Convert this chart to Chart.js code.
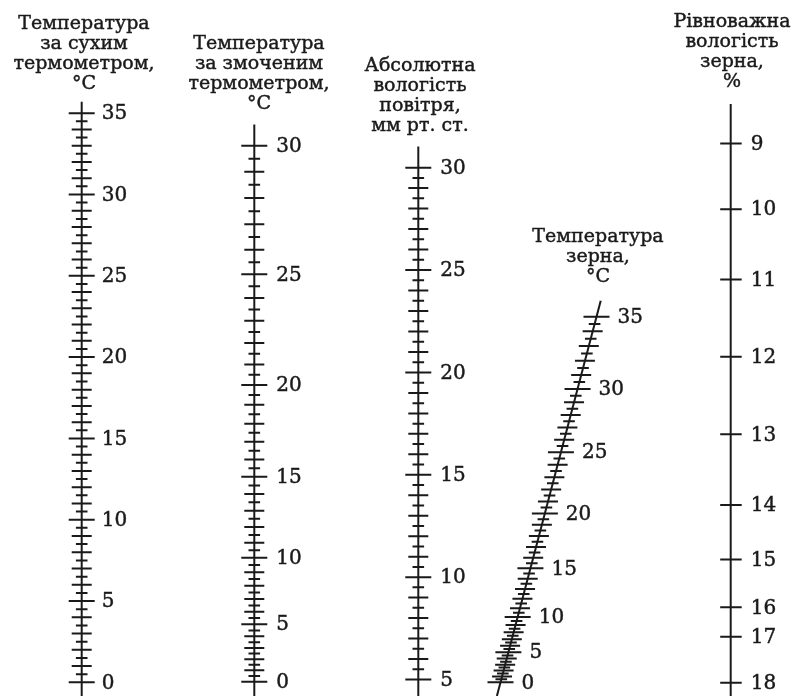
<!DOCTYPE html>
<html>
<head>
<meta charset="utf-8">
<script src="https://cdn.jsdelivr.net/npm/chart.js@4/dist/chart.umd.min.js"></script>
<style>
  html, body { margin: 0; padding: 0; background: #fff; }
  #wrap { width: 801px; height: 696px; }
</style>
</head>
<body>
<div id="wrap"><canvas id="nomo" width="801" height="696"></canvas></div>
<script>
// Номограма: усі шкали виражені в одиницях шкали сухого термометра (°C)
const dryTemps = [0, 5, 10, 15, 20, 25, 30, 35];

const wetTemps = [0, 5, 10, 15, 20, 25, 30];
const wetOnDry = [0.04, 3.57, 7.66, 12.64, 18.28, 25.09, 33.0];

const humidity = [5, 10, 15, 20, 25, 30];
const humidityOnDry = [0.17, 6.47, 12.76, 19.06, 25.36, 31.65];

const grainTemps = [0, 5, 10, 15, 20, 25, 30, 35];
const grainOnDry = [0, 1.85, 4.02, 7.01, 10.39, 14.15, 18.04, 22.48];

const moisture = [9, 10, 11, 12, 13, 14, 15, 16, 17, 18];
const moistureOnDry = [33.14, 29.09, 24.78, 20.02, 15.25, 10.90, 7.56, 4.61, 2.80, -0.02];

// розміщення колонок (x у пікселях полотна)
const COL = { dry: 81.7, wet: 254.3, hum: 418.3, grain: 500.5, grainSlope: 4.27, moist: 730.7 };
const Y_MIN = -0.84, Y_MAX = 41.96;
const INK = '#1a1a1a';

// гладка інтерполяція між відміченими поділками шкали
function makeScale(xs, ys) {
    const n = xs.length, d = [], m = [];
    for (let i = 0; i < n - 1; i++) d.push((ys[i + 1] - ys[i]) / (xs[i + 1] - xs[i]));
    m[0] = d[0]; m[n - 1] = d[n - 2];
    for (let i = 1; i < n - 1; i++) m[i] = d[i - 1] * d[i] <= 0 ? 0 : (d[i - 1] + d[i]) / 2;
    return v => {
        let i = 0;
        while (i < n - 2 && v > xs[i + 1]) i++;
        const h = xs[i + 1] - xs[i], t = (v - xs[i]) / h;
        const t2 = t * t, t3 = t2 * t;
        return (2 * t3 - 3 * t2 + 1) * ys[i] + (t3 - 2 * t2 + t) * h * m[i]
             + (-2 * t3 + 3 * t2) * ys[i + 1] + (t3 - t2) * h * m[i + 1];
    };
}

const dryY = v => v;
const wetY = makeScale(wetTemps, wetOnDry);
const humY = makeScale(humidity, humidityOnDry);
const grainY = makeScale(grainTemps, grainOnDry);
const moistY = makeScale(moisture, moistureOnDry);
const grainX = y => COL.grain + COL.grainSlope * y;

// поділки через 0,5: довгі на кратних 5, середні на цілих, короткі на половинах
function halfTicks(from, to, yOf, xOf) {
    const pts = [];
    for (let k = 0; from + k * 0.5 <= to + 1e-9; k++) {
        const v = from + k * 0.5;
        const len = (v % 5 === 0) ? 13 : (k % 2 === 0 ? 10 : 5.8);
        const y = yOf(v), x = xOf(y);
        pts.push({ x: x - len, y: y }, { x: x + len, y: y }, { x: x, y: null });
    }
    return pts;
}

const moistTicks = [];
moisture.forEach(v => {
    const y = moistY(v);
    moistTicks.push({ x: COL.moist - 10.5, y: y }, { x: COL.moist + 11, y: y }, { x: COL.moist, y: null });
});

function line(data, width) {
    return { data: data, borderColor: INK, borderWidth: width || 2, pointRadius: 0,
             showLine: true, spanGaps: false, tension: 0, fill: false };
}

const datasets = [
    line([{ x: COL.dry, y: Y_MIN }, { x: COL.dry, y: 35.7 }]),
    line(halfTicks(0, 35, dryY, () => COL.dry), 2),
    line([{ x: COL.wet, y: Y_MIN }, { x: COL.wet, y: 34.3 }]),
    line(halfTicks(0, 30, wetY, () => COL.wet), 2),
    line([{ x: COL.hum, y: Y_MIN }, { x: COL.hum, y: 32.95 }]),
    line(halfTicks(5, 30, humY, () => COL.hum), 2),
    line([{ x: grainX(Y_MIN), y: Y_MIN }, { x: grainX(23.47), y: 23.47 }]),
    line(halfTicks(0, 35, grainY, grainX), 2),
    line([{ x: COL.moist, y: Y_MIN }, { x: COL.moist, y: 35.57 }]),
    line(moistTicks, 2)
];

// підписи поділок
const tickLabels = [];
dryTemps.forEach(v => tickLabels.push({ t: String(v), x: COL.dry + 20, y: dryY(v) }));
wetTemps.forEach(v => tickLabels.push({ t: String(v), x: COL.wet + 22, y: wetY(v) }));
humidity.forEach(v => tickLabels.push({ t: String(v), x: COL.hum + 22, y: humY(v) }));
grainTemps.forEach(v => { const y = grainY(v); tickLabels.push({ t: String(v), x: grainX(y) + 21, y: y }); });
moisture.forEach(v => tickLabels.push({ t: String(v), x: COL.moist + 20, y: moistY(v) }));

// заголовки шкал: центр по x, базова лінія першого рядка (px)
const titles = [
    { cx: 84, top: 28.5, lines: ['Температура', 'за сухим', 'термометром,', '°C'] },
    { cx: 259, top: 48.5, lines: ['Температура', 'за змоченим', 'термометром,', '°C'] },
    { cx: 420, top: 70.5, lines: ['Абсолютна', 'вологість', 'повітря,', 'мм рт. ст.'] },
    { cx: 598, top: 242, lines: ['Температура', 'зерна,', '°C'] },
    { cx: 732, top: 27, lines: ['Рівноважна', 'вологість', 'зерна,', '%'] }
];

function heavyText(ctx, s, x, y) {
    ctx.fillText(s, x, y);
    ctx.strokeText(s, x, y);
}

const textPlugin = {
    id: 'nomoText',
    afterDatasetsDraw(chart) {
        const ctx = chart.ctx, sx = chart.scales.x, sy = chart.scales.y;
        ctx.save();
        ctx.fillStyle = INK;
        ctx.strokeStyle = INK;
        ctx.lineWidth = 0.45;
        ctx.font = '20px "DejaVu Serif"';
        ctx.textAlign = 'left';
        ctx.textBaseline = 'middle';
        tickLabels.forEach(l => heavyText(ctx, l.t, sx.getPixelForValue(l.x), sy.getPixelForValue(l.y) + 1));
        ctx.font = '19px "DejaVu Serif"';
        ctx.textAlign = 'center';
        ctx.textBaseline = 'alphabetic';
        titles.forEach(tt => tt.lines.forEach((s, i) => heavyText(ctx, s, tt.cx, tt.top + i * 20)));
        ctx.restore();
    }
};

new Chart(document.getElementById('nomo').getContext('2d'), {
    type: 'scatter',
    data: { datasets: datasets },
    options: {
        responsive: false,
        animation: false,
        layout: { padding: 0 },
        plugins: { legend: { display: false }, tooltip: { enabled: false } },
        scales: {
            x: { type: 'linear', min: 0, max: 801, display: false },
            y: { type: 'linear', min: Y_MIN, max: Y_MAX, display: false }
        }
    },
    plugins: [textPlugin]
});
</script>
</body>
</html>
